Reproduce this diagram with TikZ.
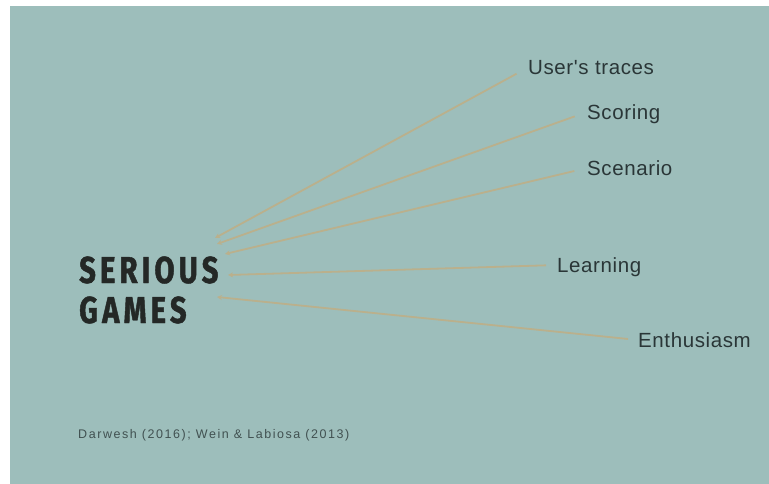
\documentclass[tikz,border=0pt]{standalone}
\usepackage{fontspec}
\usepackage{tikz}
\usetikzlibrary{arrows.meta,positioning}
\setmainfont{Liberation Sans}
\newfontfamily\lblfont[LetterSpace=3]{Liberation Sans}
\newfontfamily\citefont[LetterSpace=12.5]{Liberation Sans}
\newfontfamily\titlefont[FakeStretch=0.78,FakeBold=1.2,LetterSpace=11]{Fira Sans}
\definecolor{slidebg}{RGB}{157,190,187}
\definecolor{linktan}{RGB}{186,176,140}
\definecolor{inkdark}{RGB}{42,54,55}
\definecolor{titleink}{RGB}{36,40,38}
\tikzset{
  item/.style={anchor=base west, inner sep=0pt, text height=15pt, text depth=0pt,
    text=inkdark, font=\lblfont\fontsize{20.5}{24}\selectfont},
  title/.style={anchor=base west, inner sep=0pt, text=titleink,
    font=\titlefont\bfseries\fontsize{37.5}{40}\selectfont},
  link/.style={draw=linktan, line width=1.8pt, shorten <=13pt, -{Stealth[length=5pt,width=5pt]}}
}
\begin{document}
\begin{tikzpicture}[x=1pt, y=-1pt, >=Stealth]
    \useasboundingbox (0,0) rectangle (769,484);
    \fill[white] (0,0) rectangle (769,484);
    \fill[slidebg] (10,6) rectangle (769,484);
    \node[title] (serious) at (79,283) {SERIOUS};
    \node[title] (games) at (79,323) {GAMES};
    \node[item] (traces) at (528,75) {User's traces};
    \node[item] (scoring) at (587,119.5) {Scoring};
    \node[item] (scenario) at (587,175.5) {Scenario};
    \node[item] (learning) at (557,272.5) {Learning};
    \node[item] (enthus) at (638,347.5) {Enthusiasm};
    \node[anchor=base west, inner sep=0pt, text=inkdark!80!slidebg, font=\citefont\fontsize{12.5}{14}\selectfont] (cite) at (78,438) {Darwesh (2016); Wein \& Labiosa (2013)};
    % free ends next to the title
    \coordinate (h1) at (215,238);
    \coordinate (h2) at (217,244);
    \coordinate (h3) at (225,254);
    \coordinate (h4) at (228,275);
    \coordinate (h5) at (217,297);
    \draw[link] (traces.west) -- (h1);
    \draw[link] (scoring.west) -- (h2);
    \draw[link] (scenario.west) -- (h3);
    \draw[link, shorten <=11pt] (learning.west) -- (h4);
    \draw[link, shorten <=10pt] (enthus.west) -- (h5);
\end{tikzpicture}
\end{document}
